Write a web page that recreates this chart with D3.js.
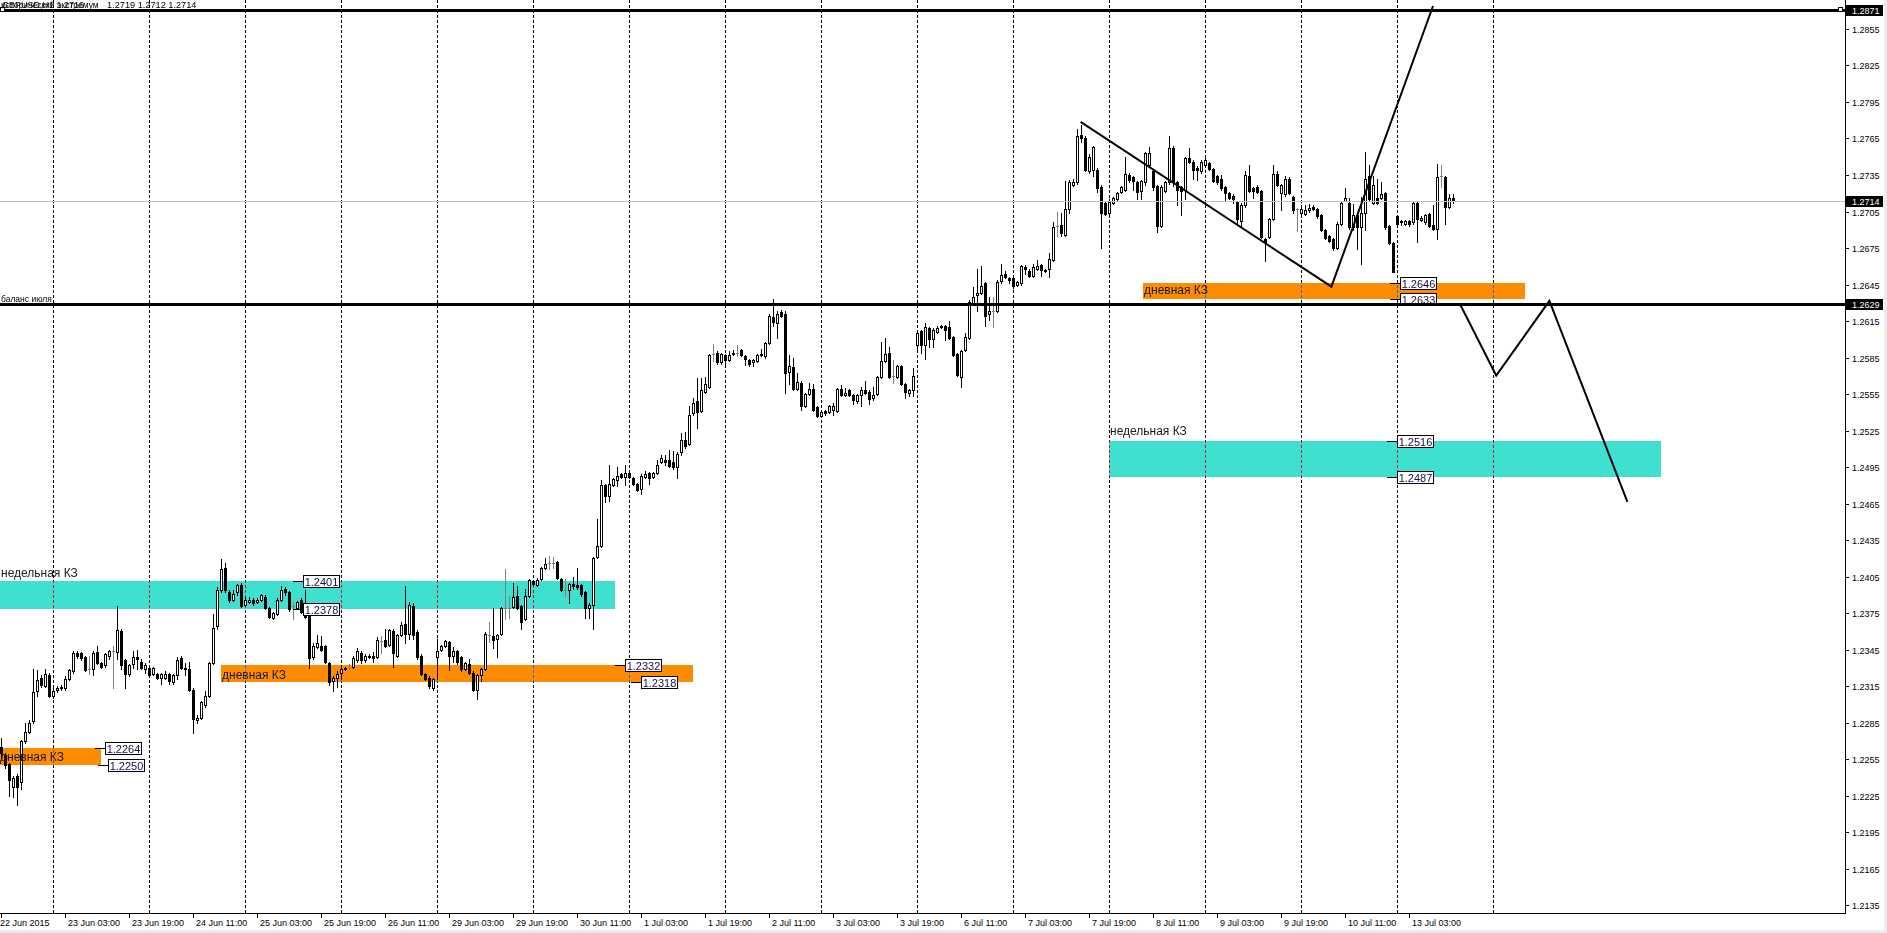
<!DOCTYPE html>
<html><head><meta charset="utf-8">
<script src="https://cdn.jsdelivr.net/npm/d3@7"></script>
<style>
html,body{margin:0;padding:0;background:#fff;overflow:hidden}
svg{display:block}
text{font-family:"Liberation Sans",Arial,sans-serif}
</style></head><body>
<svg id="c" width="1887" height="933"></svg>
<script>
// ---------- DATA ----------
// hourly candles [open, high, low, close], first bar = 22 Jun 2015
const ohlc = [
[1.2265,1.2272,1.2255,1.2260],[1.2258,1.2260,1.2248,1.2250],[1.2251,1.2252,1.2225,1.2238],[1.2232,1.2241,1.2224,1.2239],[1.2241,1.2243,1.2217,1.2232],[1.2236,1.2271,1.2230,1.2270],
[1.2270,1.2285,1.2268,1.2277],[1.2277,1.2287,1.2276,1.2285],[1.2286,1.2329,1.2285,1.2310],[1.2311,1.2328,1.2307,1.2320],[1.2322,1.2324,1.2314,1.2316],[1.2315,1.2329,1.2314,1.2325],
[1.2324,1.2326,1.2306,1.2307],[1.2307,1.2313,1.2305,1.2311],[1.2312,1.2315,1.2310,1.2313],[1.2313,1.2316,1.2312,1.2314],[1.2313,1.2323,1.2312,1.2321],[1.2321,1.2329,1.2320,1.2328],
[1.2327,1.2344,1.2326,1.2342],[1.2342,1.2344,1.2338,1.2340],[1.2342,1.2343,1.2336,1.2338],[1.2339,1.2340,1.2327,1.2328],[1.2329,1.2340,1.2325,1.2329],[1.2329,1.2344,1.2324,1.2342],
[1.2343,1.2348,1.2333,1.2334],[1.2334,1.2335,1.2330,1.2331],[1.2332,1.2342,1.2331,1.2341],[1.2340,1.2345,1.2337,1.2344],[1.2344,1.2348,1.2313,1.2344],[1.2343,1.2381,1.2337,1.2361],
[1.2360,1.2362,1.2329,1.2332],[1.2336,1.2337,1.2313,1.2325],[1.2325,1.2333,1.2323,1.2332],[1.2333,1.2344,1.2330,1.2339],[1.2339,1.2345,1.2329,1.2337],[1.2335,1.2337,1.2329,1.2330],
[1.2329,1.2334,1.2326,1.2332],[1.2330,1.2332,1.2323,1.2324],[1.2325,1.2331,1.2324,1.2330],[1.2325,1.2326,1.2321,1.2322],[1.2322,1.2326,1.2317,1.2325],[1.2322,1.2327,1.2321,1.2325],
[1.2325,1.2326,1.2317,1.2319],[1.2318,1.2325,1.2317,1.2324],[1.2324,1.2339,1.2321,1.2336],[1.2338,1.2340,1.2329,1.2330],[1.2329,1.2334,1.2324,1.2330],[1.2329,1.2335,1.2311,1.2312],
[1.2312,1.2313,1.2276,1.2288],[1.2287,1.2291,1.2285,1.2289],[1.2289,1.2303,1.2288,1.2302],[1.2299,1.2311,1.2298,1.2307],[1.2307,1.2335,1.2306,1.2334],[1.2334,1.2374,1.2333,1.2363],
[1.2364,1.2396,1.2362,1.2394],[1.2394,1.2419,1.2392,1.2411],[1.2412,1.2416,1.2392,1.2394],[1.2392,1.2394,1.2384,1.2386],[1.2386,1.2394,1.2385,1.2391],[1.2392,1.2399,1.2390,1.2398],
[1.2398,1.2400,1.2380,1.2381],[1.2382,1.2388,1.2381,1.2386],[1.2384,1.2388,1.2383,1.2386],[1.2386,1.2387,1.2382,1.2383],[1.2384,1.2387,1.2383,1.2386],[1.2386,1.2391,1.2385,1.2390],
[1.2388,1.2390,1.2378,1.2379],[1.2379,1.2380,1.2371,1.2372],[1.2371,1.2376,1.2370,1.2375],[1.2374,1.2387,1.2373,1.2386],[1.2386,1.2397,1.2385,1.2394],[1.2395,1.2396,1.2390,1.2392],
[1.2392,1.2393,1.2377,1.2378],[1.2381,1.2384,1.2370,1.2381],[1.2379,1.2385,1.2378,1.2384],[1.2386,1.2387,1.2375,1.2376],[1.2379,1.2394,1.2371,1.2372],[1.2377,1.2378,1.2330,1.2338],
[1.2339,1.2350,1.2337,1.2348],[1.2347,1.2357,1.2346,1.2350],[1.2348,1.2356,1.2344,1.2345],[1.2348,1.2349,1.2334,1.2335],[1.2334,1.2335,1.2316,1.2318],[1.2319,1.2323,1.2311,1.2322],
[1.2322,1.2327,1.2314,1.2325],[1.2326,1.2332,1.2321,1.2329],[1.2329,1.2331,1.2328,1.2330],[1.2331,1.2333,1.2329,1.2331],[1.2331,1.2340,1.2330,1.2338],[1.2336,1.2346,1.2335,1.2344],
[1.2342,1.2344,1.2334,1.2336],[1.2336,1.2341,1.2335,1.2340],[1.2340,1.2341,1.2338,1.2339],[1.2340,1.2343,1.2335,1.2338],[1.2339,1.2355,1.2338,1.2353],[1.2352,1.2356,1.2342,1.2352],
[1.2353,1.2362,1.2347,1.2348],[1.2349,1.2362,1.2348,1.2361],[1.2360,1.2362,1.2331,1.2342],[1.2340,1.2358,1.2339,1.2357],[1.2357,1.2368,1.2356,1.2365],[1.2366,1.2397,1.2350,1.2358],
[1.2358,1.2384,1.2354,1.2382],[1.2381,1.2383,1.2354,1.2357],[1.2359,1.2361,1.2337,1.2339],[1.2340,1.2341,1.2324,1.2325],[1.2325,1.2326,1.2320,1.2321],[1.2322,1.2323,1.2313,1.2315],
[1.2313,1.2322,1.2312,1.2321],[1.2339,1.2354,1.2321,1.2344],[1.2345,1.2349,1.2344,1.2348],[1.2348,1.2353,1.2347,1.2352],[1.2351,1.2352,1.2328,1.2340],[1.2340,1.2347,1.2335,1.2344],
[1.2344,1.2345,1.2333,1.2335],[1.2339,1.2340,1.2327,1.2329],[1.2329,1.2335,1.2328,1.2334],[1.2333,1.2337,1.2325,1.2326],[1.2326,1.2327,1.2311,1.2312],[1.2312,1.2325,1.2304,1.2324],
[1.2324,1.2330,1.2319,1.2329],[1.2329,1.2359,1.2328,1.2358],[1.2357,1.2368,1.2351,1.2357],[1.2356,1.2379,1.2346,1.2353],[1.2354,1.2358,1.2339,1.2357],[1.2358,1.2380,1.2357,1.2379],
[1.2379,1.2411,1.2370,1.2379],[1.2379,1.2389,1.2371,1.2379],[1.2380,1.2400,1.2379,1.2388],[1.2389,1.2397,1.2378,1.2379],[1.2381,1.2382,1.2362,1.2368],[1.2370,1.2395,1.2369,1.2389],
[1.2389,1.2403,1.2388,1.2402],[1.2401,1.2402,1.2398,1.2399],[1.2398,1.2404,1.2397,1.2402],[1.2403,1.2413,1.2402,1.2412],[1.2412,1.2420,1.2411,1.2415],[1.2416,1.2422,1.2411,1.2416],
[1.2416,1.2421,1.2412,1.2416],[1.2417,1.2418,1.2403,1.2404],[1.2403,1.2404,1.2393,1.2394],[1.2394,1.2403,1.2389,1.2394],[1.2394,1.2400,1.2383,1.2399],[1.2399,1.2405,1.2395,1.2397],
[1.2398,1.2412,1.2395,1.2396],[1.2398,1.2399,1.2389,1.2391],[1.2392,1.2393,1.2371,1.2379],[1.2379,1.2383,1.2371,1.2382],[1.2382,1.2421,1.2362,1.2420],[1.2421,1.2452,1.2420,1.2430],
[1.2430,1.2484,1.2429,1.2480],[1.2480,1.2481,1.2466,1.2471],[1.2471,1.2497,1.2467,1.2481],[1.2480,1.2486,1.2479,1.2485],[1.2484,1.2495,1.2479,1.2488],[1.2489,1.2490,1.2486,1.2487],
[1.2487,1.2497,1.2480,1.2490],[1.2490,1.2492,1.2486,1.2487],[1.2486,1.2487,1.2480,1.2481],[1.2481,1.2482,1.2475,1.2476],[1.2477,1.2489,1.2473,1.2488],[1.2487,1.2492,1.2486,1.2489],
[1.2490,1.2491,1.2481,1.2486],[1.2487,1.2491,1.2486,1.2490],[1.2490,1.2501,1.2489,1.2497],[1.2499,1.2505,1.2498,1.2502],[1.2501,1.2505,1.2497,1.2499],[1.2501,1.2509,1.2495,1.2496],
[1.2499,1.2508,1.2493,1.2495],[1.2495,1.2507,1.2486,1.2506],[1.2507,1.2523,1.2505,1.2517],[1.2517,1.2524,1.2511,1.2512],[1.2514,1.2545,1.2513,1.2538],[1.2539,1.2552,1.2538,1.2548],
[1.2549,1.2568,1.2527,1.2540],[1.2541,1.2568,1.2540,1.2558],[1.2557,1.2569,1.2556,1.2563],[1.2561,1.2588,1.2560,1.2587],[1.2588,1.2596,1.2582,1.2588],[1.2589,1.2590,1.2580,1.2581],
[1.2581,1.2589,1.2580,1.2588],[1.2587,1.2588,1.2578,1.2583],[1.2583,1.2590,1.2582,1.2587],[1.2589,1.2591,1.2587,1.2588],[1.2589,1.2595,1.2586,1.2589],[1.2591,1.2592,1.2586,1.2587],
[1.2586,1.2587,1.2579,1.2584],[1.2583,1.2584,1.2578,1.2580],[1.2581,1.2584,1.2578,1.2583],[1.2582,1.2588,1.2581,1.2587],[1.2588,1.2592,1.2586,1.2587],[1.2586,1.2598,1.2585,1.2597],
[1.2597,1.2621,1.2596,1.2619],[1.2618,1.2633,1.2611,1.2614],[1.2613,1.2623,1.2601,1.2621],[1.2622,1.2624,1.2618,1.2619],[1.2621,1.2623,1.2556,1.2572],[1.2573,1.2587,1.2563,1.2578],
[1.2577,1.2585,1.2558,1.2559],[1.2559,1.2572,1.2558,1.2565],[1.2564,1.2566,1.2542,1.2545],[1.2545,1.2556,1.2544,1.2555],[1.2555,1.2564,1.2554,1.2559],[1.2559,1.2563,1.2541,1.2542],
[1.2544,1.2545,1.2536,1.2537],[1.2537,1.2541,1.2536,1.2540],[1.2541,1.2542,1.2538,1.2539],[1.2540,1.2546,1.2539,1.2545],[1.2542,1.2548,1.2538,1.2545],[1.2541,1.2560,1.2540,1.2559],
[1.2559,1.2562,1.2553,1.2554],[1.2554,1.2560,1.2553,1.2556],[1.2558,1.2559,1.2553,1.2554],[1.2554,1.2555,1.2547,1.2550],[1.2549,1.2555,1.2548,1.2554],[1.2554,1.2561,1.2545,1.2558],
[1.2558,1.2566,1.2555,1.2556],[1.2557,1.2558,1.2547,1.2551],[1.2552,1.2561,1.2550,1.2554],[1.2555,1.2570,1.2554,1.2569],[1.2569,1.2598,1.2568,1.2582],[1.2582,1.2601,1.2581,1.2588],
[1.2589,1.2594,1.2568,1.2569],[1.2570,1.2583,1.2564,1.2570],[1.2569,1.2579,1.2568,1.2578],[1.2578,1.2579,1.2562,1.2563],[1.2563,1.2564,1.2552,1.2557],[1.2556,1.2559,1.2553,1.2558],
[1.2558,1.2576,1.2553,1.2570],[1.2595,1.2607,1.2591,1.2605],[1.2607,1.2608,1.2589,1.2595],[1.2595,1.2613,1.2584,1.2610],[1.2609,1.2610,1.2594,1.2600],[1.2600,1.2609,1.2594,1.2608],
[1.2606,1.2611,1.2605,1.2609],[1.2611,1.2612,1.2609,1.2610],[1.2611,1.2612,1.2599,1.2608],[1.2610,1.2615,1.2600,1.2601],[1.2602,1.2603,1.2586,1.2587],[1.2588,1.2589,1.2570,1.2571],
[1.2569,1.2591,1.2561,1.2590],[1.2591,1.2605,1.2590,1.2602],[1.2601,1.2632,1.2600,1.2631],[1.2630,1.2643,1.2629,1.2635],[1.2636,1.2658,1.2623,1.2638],[1.2638,1.2660,1.2637,1.2644],
[1.2646,1.2647,1.2611,1.2619],[1.2621,1.2635,1.2616,1.2623],[1.2623,1.2635,1.2610,1.2623],[1.2623,1.2649,1.2622,1.2647],[1.2648,1.2662,1.2646,1.2653],[1.2654,1.2656,1.2650,1.2651],
[1.2650,1.2651,1.2646,1.2649],[1.2650,1.2651,1.2642,1.2644],[1.2645,1.2648,1.2644,1.2647],[1.2646,1.2661,1.2645,1.2660],[1.2659,1.2661,1.2654,1.2658],[1.2656,1.2658,1.2651,1.2652],
[1.2652,1.2662,1.2651,1.2659],[1.2658,1.2665,1.2657,1.2660],[1.2661,1.2662,1.2652,1.2657],[1.2657,1.2658,1.2655,1.2656],[1.2658,1.2671,1.2651,1.2666],[1.2665,1.2696,1.2664,1.2692],
[1.2693,1.2705,1.2685,1.2693],[1.2694,1.2704,1.2685,1.2687],[1.2686,1.2730,1.2685,1.2707],[1.2707,1.2731,1.2704,1.2729],[1.2727,1.2732,1.2726,1.2729],[1.2729,1.2773,1.2728,1.2767],
[1.2768,1.2776,1.2762,1.2765],[1.2765,1.2767,1.2738,1.2739],[1.2738,1.2752,1.2737,1.2750],[1.2739,1.2759,1.2734,1.2758],[1.2739,1.2741,1.2721,1.2724],[1.2725,1.2727,1.2675,1.2704],
[1.2712,1.2713,1.2702,1.2703],[1.2704,1.2715,1.2703,1.2713],[1.2712,1.2717,1.2711,1.2716],[1.2715,1.2721,1.2714,1.2720],[1.2721,1.2726,1.2720,1.2725],[1.2723,1.2750,1.2722,1.2736],
[1.2735,1.2737,1.2729,1.2731],[1.2733,1.2734,1.2723,1.2730],[1.2729,1.2730,1.2715,1.2721],[1.2722,1.2731,1.2715,1.2730],[1.2729,1.2754,1.2727,1.2753],[1.2743,1.2758,1.2742,1.2753],
[1.2738,1.2740,1.2723,1.2725],[1.2726,1.2727,1.2688,1.2693],[1.2693,1.2727,1.2692,1.2725],[1.2722,1.2730,1.2721,1.2729],[1.2729,1.2767,1.2728,1.2757],[1.2757,1.2759,1.2726,1.2729],
[1.2729,1.2730,1.2710,1.2723],[1.2725,1.2726,1.2702,1.2722],[1.2723,1.2750,1.2715,1.2749],[1.2749,1.2757,1.2745,1.2746],[1.2746,1.2747,1.2732,1.2739],[1.2741,1.2742,1.2731,1.2739],
[1.2738,1.2747,1.2737,1.2746],[1.2743,1.2749,1.2742,1.2747],[1.2745,1.2746,1.2739,1.2740],[1.2740,1.2741,1.2729,1.2730],[1.2734,1.2735,1.2728,1.2729],[1.2732,1.2735,1.2723,1.2724],
[1.2725,1.2726,1.2714,1.2720],[1.2720,1.2721,1.2715,1.2716],[1.2718,1.2719,1.2712,1.2715],[1.2713,1.2714,1.2695,1.2699],[1.2697,1.2712,1.2692,1.2710],[1.2710,1.2738,1.2709,1.2735],
[1.2734,1.2743,1.2721,1.2722],[1.2724,1.2725,1.2716,1.2722],[1.2725,1.2727,1.2720,1.2721],[1.2722,1.2723,1.2683,1.2684],[1.2682,1.2683,1.2664,1.2680],[1.2684,1.2700,1.2683,1.2699],
[1.2699,1.2743,1.2698,1.2736],[1.2736,1.2738,1.2726,1.2727],[1.2720,1.2728,1.2706,1.2727],[1.2719,1.2734,1.2718,1.2732],[1.2732,1.2733,1.2719,1.2720],[1.2717,1.2718,1.2704,1.2706],
[1.2707,1.2708,1.2689,1.2707],[1.2704,1.2708,1.2703,1.2707],[1.2703,1.2710,1.2702,1.2706],[1.2706,1.2711,1.2705,1.2708],[1.2709,1.2710,1.2706,1.2707],[1.2707,1.2708,1.2700,1.2701],
[1.2702,1.2703,1.2689,1.2690],[1.2690,1.2691,1.2682,1.2683],[1.2685,1.2686,1.2680,1.2681],[1.2682,1.2683,1.2673,1.2675],[1.2675,1.2696,1.2674,1.2695],[1.2695,1.2713,1.2694,1.2712],
[1.2714,1.2724,1.2714,1.2716],[1.2712,1.2716,1.2691,1.2692],[1.2692,1.2711,1.2690,1.2702],[1.2702,1.2705,1.2674,1.2692],[1.2692,1.2717,1.2662,1.2704],[1.2704,1.2754,1.2690,1.2732],
[1.2734,1.2743,1.2714,1.2715],[1.2712,1.2734,1.2711,1.2727],[1.2716,1.2732,1.2711,1.2712],[1.2716,1.2729,1.2715,1.2719],[1.2720,1.2721,1.2691,1.2692],[1.2693,1.2694,1.2678,1.2679],
[1.2679,1.2680,1.2655,1.2655],[1.2701,1.2702,1.2694,1.2695],[1.2696,1.2698,1.2694,1.2697],[1.2695,1.2698,1.2694,1.2697],[1.2697,1.2698,1.2693,1.2695],[1.2696,1.2713,1.2695,1.2712],
[1.2712,1.2713,1.2680,1.2699],[1.2698,1.2701,1.2697,1.2700],[1.2696,1.2703,1.2695,1.2702],[1.2703,1.2704,1.2692,1.2693],[1.2694,1.2710,1.2690,1.2691],[1.2691,1.2744,1.2682,1.2733],
[1.2734,1.2743,1.2725,1.2734],[1.2733,1.2734,1.2695,1.2709],[1.2709,1.2719,1.2708,1.2716],[1.2716,1.2719,1.2712,1.2714]
];
// bar indices where a new trading day begins (vertical grid)
const dayStartBars = [13,37,61,85,109,133,157,181,205,229,253,277,301,325,349,373];
// time axis labels, one every 16 bars starting at bar 0
const timeLabels = ["22 Jun 2015","23 Jun 03:00","23 Jun 19:00","24 Jun 11:00","25 Jun 03:00","25 Jun 19:00","26 Jun 11:00","29 Jun 03:00","29 Jun 19:00","30 Jun 11:00","1 Jul 03:00","1 Jul 19:00","2 Jul 11:00","3 Jul 03:00","3 Jul 19:00","6 Jul 11:00","7 Jul 03:00","7 Jul 19:00","8 Jul 11:00","9 Jul 03:00","9 Jul 19:00","10 Jul 11:00","13 Jul 03:00"];
// price axis labels
const priceTicks = [1.2135,1.2165,1.2195,1.2225,1.2255,1.2285,1.2315,1.2345,1.2375,1.2405,1.2435,1.2465,1.2495,1.2525,1.2555,1.2585,1.2615,1.2645,1.2675,1.2705,1.2735,1.2765,1.2795,1.2825,1.2855];
// zones: [startBar, endBar, upperPrice, lowerPrice, kind]
const zones = [
  [-10, 25, 1.2264, 1.2250, "day"],
  [-10, 153.5, 1.2401, 1.2378, "week"],
  [55, 173, 1.2332, 1.2318, "day"],
  [285.5, 381, 1.2646, 1.2633, "day"],
  [277, 415, 1.2516, 1.2487, "week"]
];
// zone captions: [bar, baselinePrice, text]
const captions = [
  [-0.25, 1.2253, "дневная КЗ"],
  [0, 1.24049, "недельная КЗ"],
  [55.25, 1.2321, "дневная КЗ"],
  [285.75, 1.2637, "дневная КЗ"],
  [277.25, 1.25213, "недельная КЗ"]
];
// price labels of zones: [bar, price]
const priceLabels = [
  [23.4, 1.2264],[24.3, 1.2250],[73, 1.2401],[73, 1.2378],[153.4, 1.2332],[157.6, 1.2318],
  [347.2, 1.2646],[347.2, 1.2633],[346.5, 1.2516],[346.5, 1.2487]
];
// horizontal levels
const levels = [[1.2871, "исторический экстремум"], [1.2629, "баланс июля"]];
const bidPrice = 1.2714;
// trend lines [bar, price]
const trendDown = [[269.9, 1.27786], [332.6, 1.26432], [358, 1.28739]];
const forecast = [[364.8, 1.26286], [373.8, 1.25702], [387.1, 1.26315], [406.6, 1.24664]];
const header = ["GBPUSD,H1", "1.2716", "1.2719", "1.2712", "1.2714"];

// ---------- DRAW ----------
const W = 1887, H = 933, plotR = 1845, plotB = 913;
const x = d3.scaleLinear().domain([0, 1]).range([1, 5]);
const y = d3.scaleLinear().domain([1.212845, 1.287883]).range([plotB, 0]);
const svg = d3.select("#c");
const crisp = v => Math.round(v) + 0.5;

svg.append("rect").attr("width", W).attr("height", H).attr("fill", "#fff");
svg.append("rect").attr("x", 1884).attr("y", 0).attr("width", 3).attr("height", H).attr("fill", "#ececec");
svg.append("rect").attr("x", 0).attr("y", 930).attr("width", W).attr("height", 3).attr("fill", "#ececec");

const plot = svg.append("g");
plot.append("clipPath").attr("id", "pc").append("rect").attr("width", plotR).attr("height", plotB);
const pg = plot.append("g").attr("clip-path", "url(#pc)");
// white backdrop inside the clipped group so that blending works
pg.append("rect").attr("width", plotR).attr("height", plotB).attr("fill", "#fff");

// grid
pg.append("g").selectAll("line").data(dayStartBars).join("line")
  .attr("x1", d => crisp(x(d))).attr("x2", d => crisp(x(d)))
  .attr("y1", 0).attr("y2", plotB)
  .attr("stroke", "#000").attr("stroke-width", 1).attr("stroke-dasharray", "3,2")
  .attr("shape-rendering", "crispEdges");

// zones (XOR-like blend, as in MetaTrader background objects)
const zoneInv = {day: "#0073FF", week: "#BF1F2F"};
pg.append("g").selectAll("rect").data(zones).join("rect")
  .attr("x", d => Math.round(x(d[0]))).attr("width", d => Math.round(x(d[1])) - Math.round(x(d[0])))
  .attr("y", d => Math.round(y(d[2]))).attr("height", d => Math.round(y(d[3])) - Math.round(y(d[2])))
  .attr("fill", d => zoneInv[d[4]]).style("mix-blend-mode", "difference")
  .attr("shape-rendering", "crispEdges");

// candles
const cg = pg.append("g").attr("shape-rendering", "crispEdges");
ohlc.forEach((d, i) => {
  const [o, h, l, c] = d;
  const cx = Math.round(x(i));
  const doji = Math.abs(o - c) < 1e-9;
  const col = doji ? "#808080" : "#000";
  cg.append("line").attr("x1", cx + 0.5).attr("x2", cx + 0.5)
    .attr("y1", Math.round(y(h))).attr("y2", Math.round(y(l)) + 1)
    .attr("stroke", col).attr("stroke-width", 1);
  const top = Math.round(y(Math.max(o, c))), bot = Math.round(y(Math.min(o, c)));
  if (doji) {
    cg.append("line").attr("x1", cx - 1).attr("x2", cx + 2).attr("y1", top + 0.5).attr("y2", top + 0.5)
      .attr("stroke", col).attr("stroke-width", 1);
  } else if (c < o) {
    cg.append("rect").attr("x", cx - 1).attr("y", top).attr("width", 3).attr("height", Math.max(1, bot - top + 1))
      .attr("fill", "#000");
  } else {
    cg.append("rect").attr("x", cx - 0.5).attr("y", top + 0.5).attr("width", 2).attr("height", Math.max(0, bot - top))
      .attr("fill", "#fff").attr("stroke", "#000").attr("stroke-width", 1);
  }
});

// captions
pg.append("g").selectAll("text").data(captions).join("text")
  .attr("x", d => x(d[0])).attr("y", d => y(d[1]))
  .attr("font-size", 12).attr("fill", "#1a1a1a").text(d => d[2]);

// price labels of zones
const lg = pg.append("g");
priceLabels.forEach(([b, p]) => {
  const x0 = Math.round(x(b)), yy = Math.round(y(p));
  lg.append("line").attr("x1", x0).attr("x2", x0 + 10).attr("y1", yy + 0.5).attr("y2", yy + 0.5)
    .attr("stroke", "#000").attr("shape-rendering", "crispEdges");
  lg.append("rect").attr("x", x0 + 10.5).attr("y", yy - 5.5).attr("width", 36).attr("height", 12)
    .attr("fill", "#fff").attr("stroke", "#000").attr("shape-rendering", "crispEdges");
  lg.append("text").attr("x", x0 + 28.5).attr("y", yy + 4.5).attr("text-anchor", "middle")
    .attr("font-size", 11).attr("fill", "#10104a").text(p.toFixed(4));
});

// bid line
pg.append("line").attr("x1", 0).attr("x2", plotR).attr("y1", crisp(y(bidPrice))).attr("y2", crisp(y(bidPrice)))
  .attr("stroke", "#c0c0c0").attr("stroke-width", 1).attr("shape-rendering", "crispEdges");

// horizontal levels
levels.forEach(([p, name]) => {
  const yy = crisp(y(p));
  pg.append("line").attr("x1", 0).attr("x2", plotR).attr("y1", yy).attr("y2", yy)
    .attr("stroke", "#000").attr("stroke-width", 3).attr("shape-rendering", "crispEdges");
  pg.append("text").attr("x", 1).attr("y", yy - 3).attr("font-size", 8.5).attr("fill", "#000").text(name);
});
// handles of the top level line
[[0, 1.2871], [1838, 1.2871]].forEach(([hx, p]) => {
  pg.append("rect").attr("x", hx + 0.5).attr("y", Math.round(y(p)) - 2.5).attr("width", 4).attr("height", 4)
    .attr("fill", "#fff").attr("stroke", "#000").attr("shape-rendering", "crispEdges");
});

// trend lines
const line = d3.line().x(d => x(d[0])).y(d => y(d[1]));
[trendDown, forecast].forEach(pts => {
  pg.append("path").attr("d", line(pts)).attr("fill", "none").attr("stroke", "#000")
    .attr("stroke-width", 2).attr("stroke-linejoin", "miter");
});

// header
pg.append("text").attr("x", 2).attr("y", 8).attr("font-size", 9).attr("fill", "#000")
  .text(header[0] + "  " + header[1]);
pg.append("text").attr("x", 107).attr("y", 8).attr("font-size", 9.2).attr("fill", "#000")
  .text(header.slice(2).join(" "));

// axes
const ax = svg.append("g").attr("shape-rendering", "crispEdges");
ax.append("line").attr("x1", 0).attr("x2", plotR + 1).attr("y1", plotB + 0.5).attr("y2", plotB + 0.5).attr("stroke", "#000");
ax.append("line").attr("x1", plotR + 0.5).attr("x2", plotR + 0.5).attr("y1", 0).attr("y2", plotB + 1).attr("stroke", "#000");

priceTicks.forEach(p => {
  const yy = Math.round(y(p));
  ax.append("line").attr("x1", plotR + 1).attr("x2", plotR + 4).attr("y1", yy + 0.5).attr("y2", yy + 0.5).attr("stroke", "#000");
  ax.append("text").attr("x", plotR + 7).attr("y", yy + 3.5).attr("font-size", 9).attr("fill", "#000").text(p.toFixed(4));
});

timeLabels.forEach((t, k) => {
  const xx = Math.round(x(k * 16));
  ax.append("line").attr("x1", xx + 0.5).attr("x2", xx + 0.5).attr("y1", plotB + 1).attr("y2", plotB + 5).attr("stroke", "#000");
  ax.append("text").attr("x", k === 0 ? 0 : xx + 3).attr("y", plotB + 13).attr("font-size", 9).attr("fill", "#000").text(t);
});

// right-axis markers
[[1.2871], [bidPrice], [1.2629]].forEach(([p]) => {
  const yy = Math.round(y(p));
  ax.append("rect").attr("x", plotR + 1).attr("y", yy - 5).attr("width", 37).attr("height", 11).attr("fill", "#000");
  ax.append("text").attr("x", plotR + 7).attr("y", yy + 3.5).attr("font-size", 9).attr("fill", "#fff").text(p.toFixed(4));
});
</script>
</body></html>
